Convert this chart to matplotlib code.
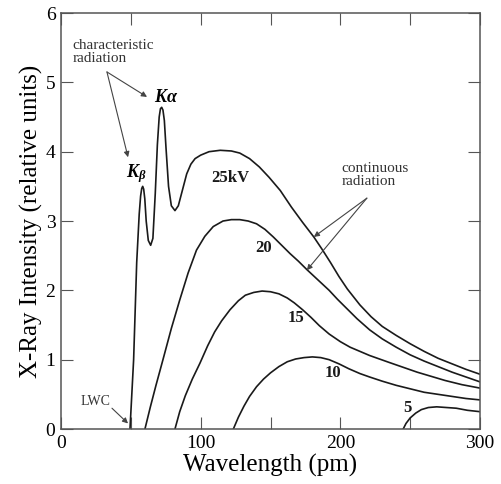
import matplotlib.pyplot as plt

# points (wavelength in pm, intensity in relative units)
kv25_x = [49.4, 52.0, 54.2, 56.0, 57.0, 57.8, 58.5, 59.2, 60.0, 61.0, 62.5, 64.2, 65.8, 67.5,
          69.0, 70.3, 71.2, 72.1, 73.0, 74.0, 75.2, 77.0, 79.0, 81.6, 84.0, 87.0, 90.0, 93.0,
          96.0, 100, 106, 114, 122, 128, 135, 142, 149, 157, 165, 173, 181, 187, 193, 199, 205,
          214, 222, 230, 240, 250, 260, 270, 280, 290, 300]
kv25_y = [0.0, 1.0, 2.4, 3.1, 3.36, 3.47, 3.50, 3.46, 3.32, 3.0, 2.72, 2.65, 2.75, 3.4,
          4.1, 4.5, 4.62, 4.64, 4.60, 4.45, 4.05, 3.5, 3.22, 3.15, 3.22, 3.45, 3.68, 3.82,
          3.90, 3.95, 4.0, 4.02, 4.01, 3.98, 3.90, 3.78, 3.63, 3.44, 3.20, 2.98, 2.77, 2.59,
          2.40, 2.20, 2.02, 1.79, 1.62, 1.48, 1.35, 1.23, 1.12, 1.02, 0.94, 0.86, 0.79]

kv20_x = [60.1, 64, 68, 73, 79, 85, 91, 97, 103, 109, 116, 122, 128, 134, 140, 146, 152, 158,
          164, 170, 176, 184, 192, 198, 205, 212, 221, 230, 240, 250, 260, 270, 280, 290, 300]
kv20_y = [0.0, 0.32, 0.63, 1.0, 1.45, 1.86, 2.25, 2.58, 2.78, 2.92, 3.0, 3.02, 3.02, 3.0, 2.96,
          2.88, 2.77, 2.65, 2.53, 2.42, 2.30, 2.15, 2.0, 1.87, 1.73, 1.59, 1.43, 1.30, 1.18, 1.07,
          0.98, 0.90, 0.82, 0.75, 0.68]

kv15_x = [81.6, 85, 89, 94, 99.5, 105, 110, 115, 121, 127, 132, 138, 144, 150, 156, 162, 167,
          173, 179, 185, 192, 200, 207, 214, 221, 228, 235, 245, 255, 265, 275, 287, 300]
kv15_y = [0.0, 0.25, 0.48, 0.72, 0.95, 1.2, 1.4, 1.56, 1.72, 1.85, 1.93, 1.97, 1.99, 1.98, 1.95,
          1.89, 1.82, 1.72, 1.61, 1.49, 1.37, 1.26, 1.18, 1.12, 1.06, 1.01, 0.96, 0.89, 0.82, 0.76,
          0.70, 0.64, 0.59]

kv10_x = [123.4, 127, 131, 135, 140, 145, 150, 156, 162, 168, 174, 180, 186, 192, 199, 206, 214,
          221, 230, 240, 250, 260, 270, 280, 290, 300]
kv10_y = [0.0, 0.17, 0.33, 0.47, 0.61, 0.72, 0.81, 0.90, 0.97, 1.01, 1.03, 1.04, 1.03, 1.0, 0.94,
          0.87, 0.80, 0.75, 0.69, 0.63, 0.58, 0.53, 0.50, 0.47, 0.44, 0.42]

kv5_x = [245, 247, 250, 254, 258, 263, 269, 276, 283, 291, 300]
kv5_y = [0.0, 0.08, 0.16, 0.23, 0.28, 0.31, 0.32, 0.31, 0.30, 0.27, 0.25]

curve_labels = ["25kV", "20", "15", "10", "5"]
label_x = [121, 145, 168, 195, 248]
label_y = [3.62, 2.61, 1.60, 0.81, 0.30]


def main():
    plt.rcParams['font.family'] = ['Liberation Serif', 'DejaVu Serif']
    plt.rcParams['mathtext.fontset'] = 'custom'
    plt.rcParams['mathtext.it'] = 'Liberation Serif:italic:bold'
    plt.rcParams['mathtext.rm'] = 'Liberation Serif'

    fig = plt.figure(figsize=(5.02, 4.84), dpi=100)
    ax = fig.add_axes([0.1215, 0.1136, 0.8347, 0.8595])

    for xs, ys in [(kv25_x, kv25_y), (kv20_x, kv20_y), (kv15_x, kv15_y),
                   (kv10_x, kv10_y), (kv5_x, kv5_y)]:
        ax.plot(xs, ys, color='#1a1a1a', lw=1.2, solid_joinstyle='round')

    for t, x, y in zip(curve_labels, label_x, label_y):
        ax.text(x, y, t, fontsize=12, fontweight='bold', ha='center', va='center',
                color='#1a1a1a')

    ax.text(75, 4.78, r'$K\alpha$', fontsize=13, ha='center', va='center')
    ax.text(54, 3.69, r'$K_\beta$', fontsize=13, ha='center', va='center')

    arrow = dict(arrowstyle='-|>', color='#444444', lw=0.8, mutation_scale=8,
                 shrinkA=0, shrinkB=0)
    ax.text(8, 5.44, "characteristic\nradiation", fontsize=11, color='#333333',
            ha='left', va='center', linespacing=1.0)
    ax.annotate('', xy=(61.6, 4.79), xytext=(32.9, 5.15), arrowprops=arrow)
    ax.annotate('', xy=(48, 3.92), xytext=(32.9, 5.15), arrowprops=arrow)

    ax.text(201, 3.66, "continuous\nradiation", fontsize=11, color='#333333',
            ha='left', va='center', linespacing=1.0)
    ax.annotate('', xy=(181, 2.77), xytext=(219, 3.33), arrowprops=arrow)
    ax.annotate('', xy=(176, 2.29), xytext=(219, 3.33), arrowprops=arrow)

    ax.text(25, 0.39, "LWC", fontsize=10, color='#333333', ha='center', va='center')
    ax.annotate('', xy=(48, 0.08), xytext=(36.5, 0.30), arrowprops=arrow)

    ax.set_xlim(0, 300)
    ax.set_ylim(0, 6)
    ax.set_xticks([0, 100, 200, 300])
    ax.set_xticks([50, 150, 250], minor=True)
    ax.set_yticks([0, 1, 2, 3, 4, 5, 6])
    ax.tick_params(which='both', direction='in', length=8.5, width=0.8, color='#555555',
                   top=True, right=True, labelsize=14, pad=4)
    for s in ax.spines.values():
        s.set_color('#555555')
        s.set_linewidth(1.1)

    ax.set_xlabel("Wavelength (pm)", fontsize=18, labelpad=2)
    ax.set_ylabel("X-Ray Intensity (relative units)", fontsize=18, labelpad=2)

    fig.savefig("out.png", dpi=100)


if __name__ == "__main__":
    main()
